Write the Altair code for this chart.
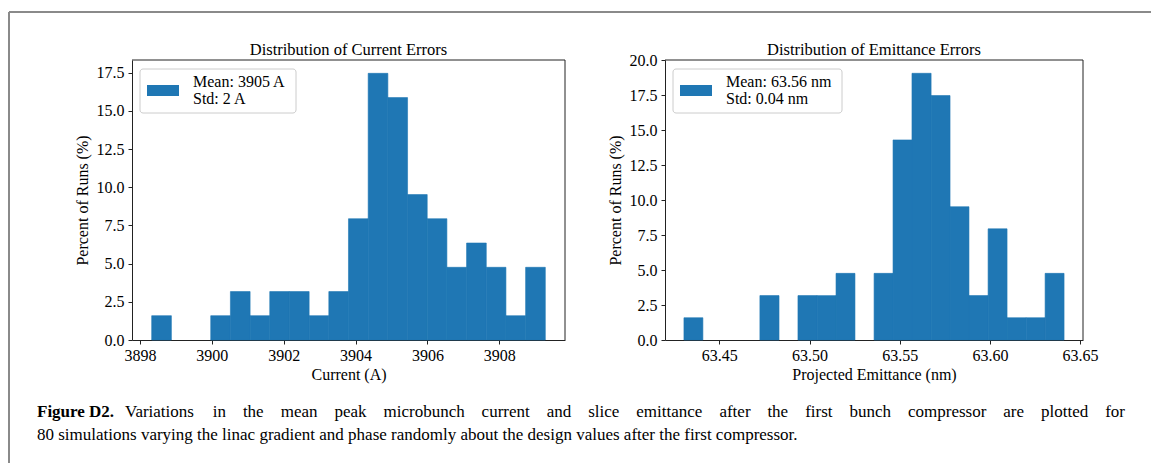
import altair as alt
import pandas as pd

# Peak current histogram: bin edges (A) and share of runs (%)
current_edges = [3898.325, 3898.873, 3899.420, 3899.968, 3900.516, 3901.064, 3901.611,
                 3902.159, 3902.707, 3903.255, 3903.802, 3904.350, 3904.898, 3905.446,
                 3905.993, 3906.541, 3907.089, 3907.637, 3908.184, 3908.732, 3909.280]
current_pct = [1.59, 0, 0, 1.59, 3.17, 1.59, 3.17, 3.17, 1.59, 3.17,
               7.94, 17.46, 15.87, 9.52, 7.94, 4.76, 6.35, 4.76, 1.59, 4.76]

# Projected emittance histogram: bin edges (nm) and share of runs (%)
emit_edges = [63.4304, 63.4409, 63.4515, 63.4620, 63.4725, 63.4831, 63.4936,
              63.5042, 63.5147, 63.5252, 63.5358, 63.5463, 63.5568, 63.5674,
              63.5779, 63.5884, 63.5990, 63.6095, 63.6201, 63.6306, 63.6411]
emit_pct = [1.59, 0, 0, 0, 3.17, 0, 3.17, 3.17, 4.76, 0,
            4.76, 14.29, 19.05, 17.46, 9.52, 3.17, 7.94, 1.59, 1.59, 4.76]

current_ticks = [3898, 3900, 3902, 3904, 3906, 3908]
current_yticks = [0, 2.5, 5.0, 7.5, 10.0, 12.5, 15.0, 17.5]
emit_ticks = [63.45, 63.50, 63.55, 63.60, 63.65]
emit_yticks = [0, 2.5, 5.0, 7.5, 10.0, 12.5, 15.0, 17.5, 20.0]

caption_head = "Figure D2."
caption_line1 = ("Variations in the mean peak microbunch current and slice emittance "
                 "after the first bunch compressor are plotted for")
caption_line2 = ("80 simulations varying the linac gradient and phase randomly about "
                 "the design values after the first compressor.")

W, H = 1151, 463
BLUE = "#1f77b4"
FONT = "Liberation Serif"
AXIS_COLOR = "#222222"


def hist_panel(edges, pct, xdom, ydom, xrange, xticks, yticks, xfmt, xtitle):
    df = pd.DataFrame({"lo": edges[:-1], "hi": edges[1:], "pct": pct})
    xs = alt.Scale(domain=xdom, range=xrange, nice=False, zero=False)
    ys = alt.Scale(domain=ydom, range=[340, 60], nice=False, zero=False)
    xaxis = alt.Axis(orient="bottom", offset=340 - H, values=xticks,
                     format=xfmt, title=xtitle, grid=False,
                     tickSize=4, labelPadding=3, titlePadding=3,
                     labelFlush=False, labelOverlap=False)
    yaxis = alt.Axis(orient="left", offset=-xrange[0], values=yticks,
                     format=".1f", title="Percent of Runs (%)", grid=False,
                     tickSize=4, labelPadding=4, titlePadding=6,
                     labelFlush=False, labelOverlap=False)
    bars = alt.Chart(df).transform_filter("datum.pct > 0").mark_rect(
        color=BLUE, stroke=BLUE, strokeWidth=0.6
    ).encode(
        x=alt.X("lo:Q", scale=xs, axis=xaxis),
        x2="hi:Q",
        y=alt.Y("pct:Q", scale=ys, axis=yaxis),
        y2=alt.datum(0),
    )
    # top and right edges of the plot frame, drawn through the panel scales
    top = alt.Chart(alt.Data(values=[{}])).mark_rule(color=AXIS_COLOR, strokeWidth=1).encode(
        x=alt.X(datum=xdom[0], scale=xs, axis=xaxis),
        x2=alt.X2(datum=xdom[1]),
        y=alt.Y(datum=ydom[1], scale=ys, axis=yaxis),
    )
    side = alt.Chart(alt.Data(values=[{}])).mark_rule(color=AXIS_COLOR, strokeWidth=1).encode(
        x=alt.X(datum=xdom[1], scale=xs, axis=xaxis),
        y=alt.Y(datum=ydom[0], scale=ys, axis=yaxis),
        y2=alt.Y2(datum=ydom[1]),
    )
    return alt.layer(bars, top, side)


left = hist_panel(current_edges, current_pct, [3897.777, 3909.828], [0, 18.333],
                  [132, 565], current_ticks, current_yticks, "d", "Current (A)")
right = hist_panel(emit_edges, emit_pct, [63.4199, 63.6516], [0, 20.0],
                   [665, 1083], emit_ticks, emit_yticks, ".2f", "Projected Emittance (nm)")

one = alt.Data(values=[{}])


def text(s, x, y, size=16, weight="normal", align="left"):
    return alt.Chart(one).mark_text(
        text=s, font=FONT, fontSize=size, fontWeight=weight, align=align,
        baseline="alphabetic", color="black"
    ).encode(x=alt.value(x), y=alt.value(y))


def legend(x0, x1, label1, label2):
    box = alt.Chart(one).mark_rect(
        fill="white", fillOpacity=0.8, stroke="#cccccc", strokeWidth=1, cornerRadius=3
    ).encode(x=alt.value(x0), x2=alt.value(x1), y=alt.value(69), y2=alt.value(113))
    swatch = alt.Chart(one).mark_rect(color=BLUE).encode(
        x=alt.value(x0 + 7), x2=alt.value(x0 + 39), y=alt.value(85), y2=alt.value(96))
    return [box, swatch, text(label1, x0 + 53, 87), text(label2, x0 + 53, 104)]


# Times-compatible advance widths (per 1000 em) for laying out a justified line
_TW = {c: 500 for c in "bdghknopquvxy0123456789"}
_TW.update({"a": 444, "c": 444, "e": 444, "z": 444, "f": 333, "r": 333, "i": 278,
            "j": 278, "l": 278, "t": 278, "s": 389, "m": 778, "w": 722, "V": 722,
            ".": 250, " ": 250})


def word_width(w, size):
    return sum(_TW.get(c, 500) for c in w) * size / 1000.0


def justified(line, x_start, x_end, y, size):
    words = line.split(" ")
    widths = [word_width(w, size) for w in words]
    gap = (x_end - x_start - sum(widths)) / (len(words) - 1)
    marks, x = [], x_start
    for w, wd in zip(words, widths):
        marks.append(text(w, round(x, 1), y, size=size))
        x += wd + gap
    return marks


CAP = 17
decor = []
decor += legend(140, 296, "Mean: 3905 A", "Std: 2 A")
decor += legend(673, 842, "Mean: 63.56 nm", "Std: 0.04 nm")
decor += [
    text("Distribution of Current Errors", 348.5, 54.5, size=16.5, align="center"),
    text("Distribution of Emittance Errors", 874, 54.5, size=16.5, align="center"),
    text(caption_head, 37, 417, size=CAP, weight="bold"),
    text(caption_line2, 37, 440, size=CAP),
]
decor += justified(caption_line1, 125, 1125, 417, CAP)

# figure border (left and top edges)
border = [
    alt.Chart(one).mark_rule(color="#8a8a8a", strokeWidth=2).encode(
        x=alt.value(9), y=alt.value(12), y2=alt.value(H)),
    alt.Chart(one).mark_rule(color="#8a8a8a", strokeWidth=2).encode(
        x=alt.value(9), x2=alt.value(W), y=alt.value(12)),
]

chart = alt.layer(left, right, *decor, *border).resolve_scale(
    x="independent", y="independent"
).resolve_axis(
    x="independent", y="independent"
).properties(
    width=W, height=H, padding=0, background="white",
    autosize=alt.AutoSizeParams(type="none"),
).configure_view(stroke=None).configure_axis(
    labelFont=FONT, labelFontSize=16, labelColor="black",
    titleFont=FONT, titleFontSize=16, titleFontWeight="normal", titleColor="black",
    tickColor=AXIS_COLOR, domainColor=AXIS_COLOR, tickWidth=1, domainWidth=1,
)

chart.save("out.html", embed_options={"renderer": "svg", "actions": False})
